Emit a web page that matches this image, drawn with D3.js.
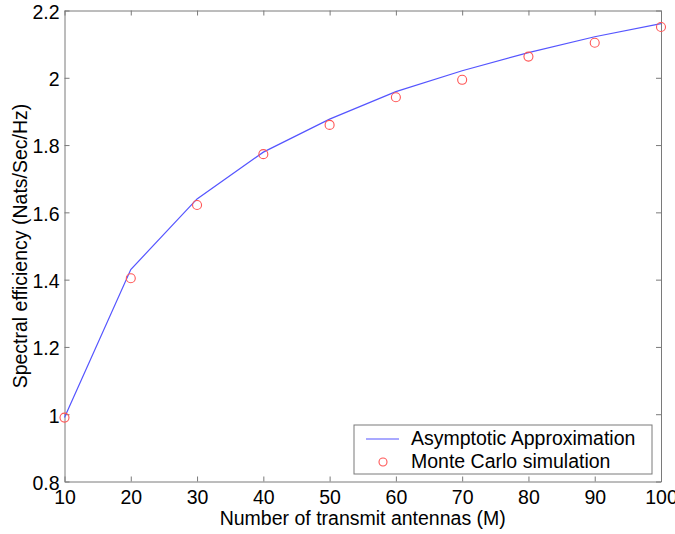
<!DOCTYPE html>
<html>
<head>
<meta charset="utf-8">
<script src="https://cdn.jsdelivr.net/npm/d3@7"></script>
<style>
  body { margin: 0; background: #fff; }
  text { font-family: "Liberation Sans", Arial, sans-serif; }
</style>
</head>
<body>
<div id="chart"></div>
<script>
const antennas = [10, 20, 30, 40, 50, 60, 70, 80, 90, 100];
const asymptotic = [0.99, 1.43, 1.64, 1.779, 1.877, 1.959, 2.021, 2.075, 2.122, 2.161];
const monteCarlo = [0.99, 1.404, 1.622, 1.773, 1.860, 1.942, 1.994, 2.063, 2.104, 2.151];
const xTicks = [10, 20, 30, 40, 50, 60, 70, 80, 90, 100];
const yTicks = [0.8, 1, 1.2, 1.4, 1.6, 1.8, 2, 2.2];
const seriesNames = ["Asymptotic Approximation", "Monte Carlo simulation"];

const width = 675, height = 534;
const margin = {left: 64.5, right: 14, top: 10.5, bottom: 52.5};
const axisColor = "#7a7a7a";
const fontSize = 19.5;

const svg = d3.select("#chart").append("svg")
    .attr("width", width)
    .attr("height", height);

const x = d3.scaleLinear()
    .domain([10, 100])
    .range([margin.left, width - margin.right]);

const y = d3.scaleLinear()
    .domain([0.8, 2.2])
    .range([height - margin.bottom, margin.top]);

const fmt = d => String(d);

// axes on all four sides, ticks pointing inward
let gBottom = svg.append("g")
    .attr("transform", `translate(0,${y(0.8)})`)
    .call(d3.axisBottom(x).tickValues(xTicks).tickFormat(fmt).tickSizeInner(-5).tickSizeOuter(0).tickPadding(9));
let gTop = svg.append("g")
    .attr("transform", `translate(0,${y(2.2)})`)
    .call(d3.axisTop(x).tickValues(xTicks).tickFormat("").tickSizeInner(-5).tickSizeOuter(0));
let gLeft = svg.append("g")
    .attr("transform", `translate(${x(10)},0)`)
    .call(d3.axisLeft(y).tickValues(yTicks).tickFormat(fmt).tickSizeInner(-5).tickSizeOuter(0).tickPadding(5));
let gRight = svg.append("g")
    .attr("transform", `translate(${x(100)},0)`)
    .call(d3.axisRight(y).tickValues(yTicks).tickFormat("").tickSizeInner(-5).tickSizeOuter(0));

[gBottom, gTop, gLeft, gRight].forEach(g => {
    g.select(".domain").attr("stroke", axisColor);
    g.selectAll(".tick line").attr("stroke", axisColor);
    g.selectAll(".tick text").attr("fill", "#000").attr("font-size", fontSize);
});
gLeft.selectAll(".tick text").attr("dy", "0.4em");

// line
const line = d3.line()
    .x((d, i) => x(antennas[i]))
    .y(d => y(d));

svg.append("path")
    .datum(asymptotic)
    .attr("fill", "none")
    .attr("stroke", "#5555ff")
    .attr("stroke-width", 1.2)
    .attr("d", line);

svg.selectAll("circle.mc")
    .data(monteCarlo)
    .enter().append("circle")
    .attr("class", "mc")
    .attr("cx", (d, i) => x(antennas[i]))
    .attr("cy", d => y(d))
    .attr("r", 4.5)
    .attr("fill", "none")
    .attr("stroke", "#ff5555")
    .attr("stroke-width", 1.1);

// axis labels
svg.append("text")
    .attr("x", (x(10) + x(100)) / 2)
    .attr("y", 525)
    .attr("text-anchor", "middle")
    .attr("font-size", fontSize)
    .text("Number of transmit antennas (M)");

svg.append("text")
    .attr("transform", `translate(27,${(y(0.8) + y(2.2)) / 2}) rotate(-90)`)
    .attr("text-anchor", "middle")
    .attr("font-size", fontSize)
    .text("Spectral efficiency (Nats/Sec/Hz)");

// legend
const legend = svg.append("g").attr("transform", "translate(354,425)");
legend.append("rect")
    .attr("width", 298)
    .attr("height", 49)
    .attr("fill", "#fff")
    .attr("stroke", axisColor);
legend.append("line")
    .attr("x1", 12).attr("x2", 45)
    .attr("y1", 14).attr("y2", 14)
    .attr("stroke", "#5555ff")
    .attr("stroke-width", 1.2);
legend.append("circle")
    .attr("cx", 29).attr("cy", 37).attr("r", 4)
    .attr("fill", "none")
    .attr("stroke", "#ff5555")
    .attr("stroke-width", 1.1);
legend.selectAll("text.lg")
    .data(seriesNames)
    .enter().append("text")
    .attr("class", "lg")
    .attr("x", 57)
    .attr("y", (d, i) => 20 + i * 23)
    .attr("font-size", fontSize)
    .text(d => d);
</script>
</body>
</html>
